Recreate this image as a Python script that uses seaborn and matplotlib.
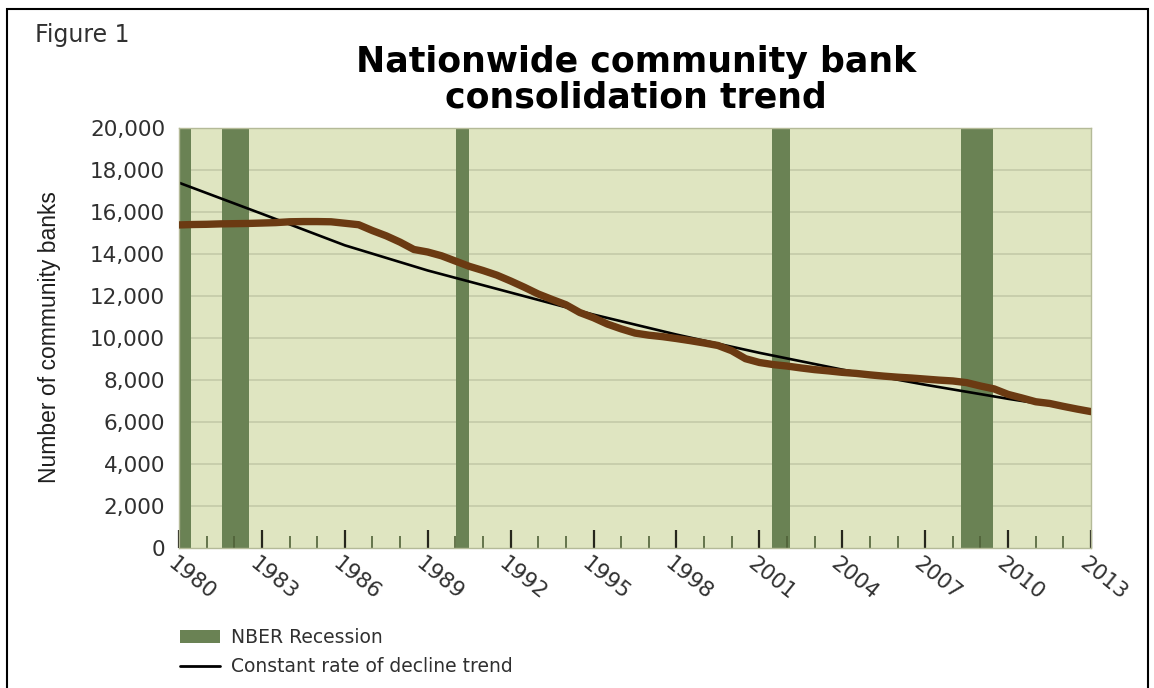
import matplotlib
matplotlib.use("Agg")
import matplotlib.pyplot as plt
import matplotlib.transforms as mtransforms
from matplotlib.patches import Patch, Rectangle
from matplotlib.lines import Line2D
from matplotlib.ticker import FuncFormatter
import seaborn as sns
import pandas as pd

# ---------------- data ----------------
bank_years = [1980.0, 1980.5, 1981.0, 1981.5, 1982.0, 1982.5, 1983.0, 1983.5, 1984.0, 1984.5,
              1985.0, 1985.5, 1986.0, 1986.5, 1987.0, 1987.5, 1988.0, 1988.5, 1989.0, 1989.5,
              1990.0, 1990.5, 1991.0, 1991.5, 1992.0, 1992.5, 1993.0, 1993.5, 1994.0, 1994.5,
              1995.0, 1995.5, 1996.0, 1996.5, 1997.0, 1997.5, 1998.0, 1998.5, 1999.0, 1999.5,
              2000.0, 2000.5, 2001.0, 2001.5, 2002.0, 2002.5, 2003.0, 2003.5, 2004.0, 2004.5,
              2005.0, 2005.5, 2006.0, 2006.5, 2007.0, 2007.5, 2008.0, 2008.5, 2009.0, 2009.5,
              2010.0, 2010.5, 2011.0, 2011.5, 2012.0, 2012.5, 2013.0]
bank_counts = [15370, 15390, 15400, 15420, 15430, 15440, 15460, 15480, 15520, 15530,
               15530, 15520, 15450, 15380, 15100, 14850, 14550, 14200, 14080, 13900,
               13650, 13400, 13200, 12980, 12700, 12400, 12080, 11820, 11570, 11200,
               10950, 10650, 10420, 10220, 10120, 10050, 9960, 9860, 9750, 9630,
               9380, 9000, 8820, 8720, 8650, 8560, 8480, 8420, 8350, 8300,
               8230, 8170, 8120, 8080, 8030, 7980, 7940, 7860, 7700, 7560,
               7300, 7130, 6950, 6870, 6730, 6600, 6480]

trend_years = [1980, 1983, 1986, 1989, 1992, 1995, 1998, 2001, 2004, 2007, 2010, 2013]
trend_counts = [17380, 15900, 14400, 13200, 12150, 11100, 10150, 9280, 8480, 7760, 7090, 6480]

recession_start = [1980.0, 1981.54, 1990.02, 2001.45, 2008.30]
recession_end = [1980.43, 1982.54, 1990.50, 2002.10, 2009.46]

major_years = list(range(1980, 2014, 3))
minor_years = list(range(1980, 2014, 1))
y_ticks = list(range(0, 20001, 2000))

title_line1 = "Nationwide community bank"
title_line2 = "consolidation trend"
figure_label = "Figure 1"
y_label = "Number of community banks"
legend_labels = ["NBER Recession", "Constant rate of decline trend"]

# ---------------- style ----------------
sns.set_style("white")
plt.rcParams["font.family"] = ["DejaVu Sans"]

BG = "#dfe5c1"
REC = "#6a8254"
BROWN = "#6b3a12"
GRID = "#c6ccaa"
TXT = "#303030"

W, H = 1154, 688
fig = plt.figure(figsize=(W / 100, H / 100), dpi=100)
fig.patch.set_facecolor("white")
ax = fig.add_axes([179 / W, 140.3 / H, 912 / W, 420 / H])
ax.set_facecolor(BG)
ax.set_axisbelow("line")

ax.set_xlim(major_years[0], major_years[-1])
ax.set_ylim(y_ticks[0], y_ticks[-1])

# horizontal gridlines (beneath the recession bands)
ax.hlines(y_ticks[1:], major_years[0], major_years[-1], colors=GRID, linewidth=1.3, zorder=0.8)

# recession bands
for s, e in zip(recession_start, recession_end):
    ax.axvspan(s, e, color=REC, lw=0, zorder=1)

df_banks = pd.DataFrame({"year": bank_years, "banks": bank_counts})
df_trend = pd.DataFrame({"year": trend_years, "trend": trend_counts})

sns.lineplot(data=df_trend, x="year", y="trend", color="black", linewidth=1.9,
             ax=ax, zorder=2.5)
sns.lineplot(data=df_banks, x="year", y="banks", color=BROWN, linewidth=5.3,
             ax=ax, zorder=3, solid_capstyle="round")

ax.set_xlabel("")
ax.set_ylabel("")

# ticks
ax.set_xticks(major_years)
ax.set_xticks(minor_years, minor=True)
ax.set_xticklabels([str(y) for y in major_years])
ax.tick_params(axis="x", which="both", bottom=True)
ax.tick_params(axis="x", which="major", direction="in", length=13, width=1.6,
               color="#26261c", labelsize=15.5, labelcolor=TXT, pad=9.5)
ax.tick_params(axis="x", which="minor", direction="in", length=8.5, width=1.2,
               color="#4f6138")
plt.setp(ax.get_xticklabels(), rotation=-39, ha="left", va="center",
         rotation_mode="anchor")
offset = mtransforms.ScaledTranslation(-9 / 100, 0, fig.dpi_scale_trans)
for lab in ax.get_xticklabels():
    lab.set_transform(lab.get_transform() + offset)

ax.set_yticks(y_ticks)
ax.yaxis.set_major_formatter(FuncFormatter(lambda v, p: f"{int(v):,}"))
ax.tick_params(axis="y", left=False, length=0, pad=10, labelsize=15.5, labelcolor=TXT)

for side in ["left", "right", "bottom", "top"]:
    ax.spines[side].set_color("#b4ba98")
    ax.spines[side].set_linewidth(1.0)

# texts
fig.text(35 / W, 1 - 42 / H, figure_label, fontsize=17, color=TXT,
         ha="left", va="baseline")
fig.text(636 / W, 1 - 72 / H, title_line1, fontsize=25, fontweight="bold",
         ha="center", va="baseline", color="black")
fig.text(636 / W, 1 - 107 / H, title_line2, fontsize=25, fontweight="bold",
         ha="center", va="baseline", color="black")
fig.text(50 / W, 1 - 337 / H, y_label, rotation=90, fontsize=16.5,
         family=["Liberation Sans", "DejaVu Sans"], color="#1e1e1e",
         ha="center", va="center")

# legend
handles = [Patch(facecolor=REC, edgecolor="none", label=legend_labels[0]),
           Line2D([], [], color="black", lw=2, label=legend_labels[1])]
fig.legend(handles=handles, loc="upper left", bbox_to_anchor=(180 / W, 1 - 628 / H),
           frameon=False, fontsize=13.5, handlelength=2.15, handletextpad=0.55,
           labelspacing=0.55, borderaxespad=0, borderpad=0, labelcolor=TXT)

# outer frame
fig.add_artist(Rectangle((7 / W, -0.05), (1148 - 7) / W, (1 - 9 / H) + 0.05,
                         transform=fig.transFigure, fill=False,
                         edgecolor="black", linewidth=1.5))

fig.savefig("out.png", dpi=100, facecolor="white")
